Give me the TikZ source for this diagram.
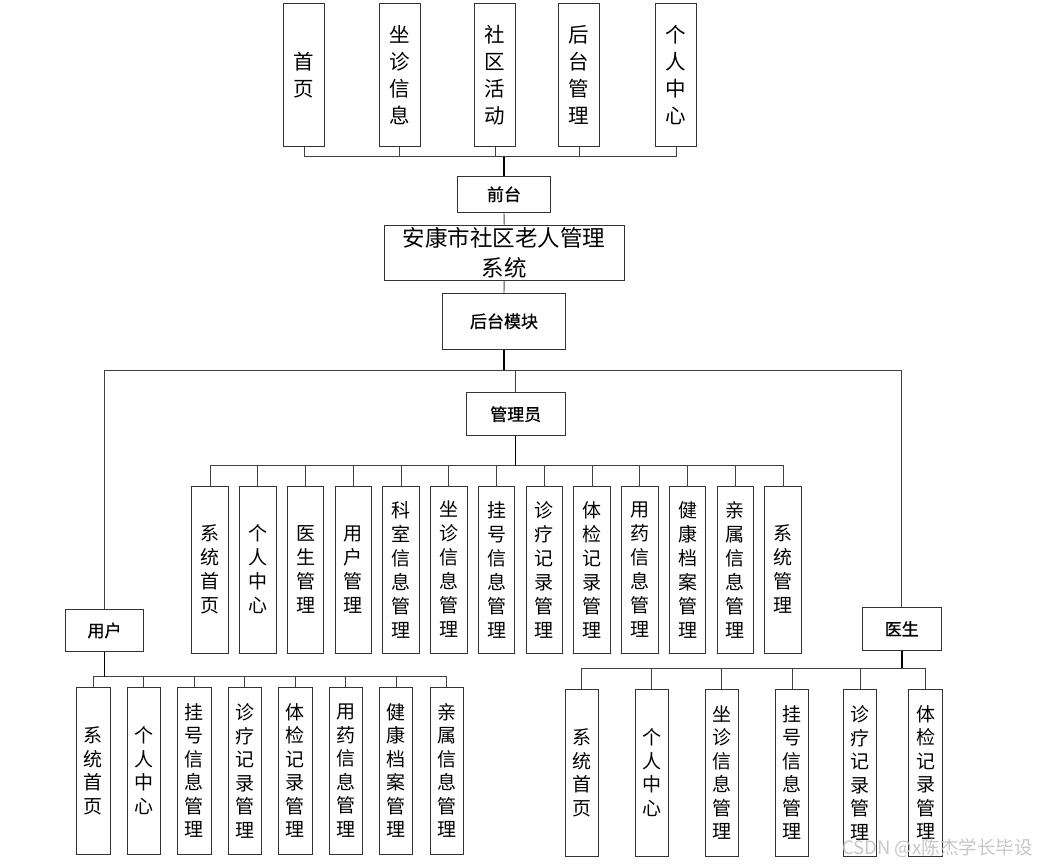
\documentclass[tikz,border=0pt]{standalone}
\usepackage{fontspec}
\setmainfont{Noto Sans CJK SC}
\newfontfamily\cjkbold{Noto Sans CJK SC}[FakeBold=0.8]
\begin{document}
\begin{tikzpicture}[x=1pt,y=-1pt,
  box/.style={draw=black!80, line width=0.9pt, fill=white, inner sep=0pt, align=center},
  tbox/.style={box, minimum width=41pt, minimum height=143.4pt, font=\fontsize{20.5}{27}\selectfont},
  abox/.style={box, minimum width=36.5pt, minimum height=167pt, font=\fontsize{19}{24}\selectfont},
  ubox/.style={box, minimum width=33.4pt, minimum height=166.7pt, font=\fontsize{19}{23.5}\selectfont},
  lbox/.style={box, font=\cjkbold\fontsize{17}{20}\selectfont},
  conn/.style={draw=black!75, line width=0.9pt},
  trunk/.style={draw=black, line width=1.5pt}]
\useasboundingbox (0,0) rectangle (1047,867);

% top row
\node[tbox] (t1) at (304,75) {首\\页};
\node[tbox] (t2) at (399.7,75) {坐\\诊\\信\\息};
\node[tbox] (t3) at (495,75) {社\\区\\活\\动};
\node[tbox] (t4) at (579.2,75) {后\\台\\管\\理};
\node[tbox] (t5) at (676.2,75) {个\\人\\中\\心};

\node[lbox, minimum width=93.4pt, minimum height=35.3pt] (qt) at (504,194.3) {前台};
\node[box, minimum width=239.7pt, minimum height=55pt, font=\fontsize{22.5}{30}\selectfont] (title) at (504.2,252.5) {安康市社区老人管理\\系统};
\node[lbox, minimum width=122.6pt, minimum height=56pt] (ht) at (504,321.3) {后台模块};
\node[lbox, minimum width=99.3pt, minimum height=43pt] (gly) at (515.7,414.2) {管理员};
\node[lbox, minimum width=77.6pt, minimum height=42.4pt] (yh) at (104.5,630.5) {用户};
\node[lbox, minimum width=78.3pt, minimum height=42.7pt] (ys) at (901.8,628.7) {医生};

% top connectors
\coordinate (tb) at (504,156.7);
\draw[conn] (t1.south) |- (t5.south |- tb) -- (t5.south);
\foreach \n in {t2,t3,t4} \draw[conn] (\n.south) -- (\n.south |- tb);
\draw[trunk] (qt.north) -- (qt.north |- tb);
\draw[conn] (qt.south) -- (title.north);
\draw[conn] (title.south) -- (ht.north);

% main split
\coordinate (mb) at (504,370);
\draw[trunk] (ht.south) -- (ht.south |- mb);
\draw[conn] (yh.north) |- (ys.north |- mb) -- (ys.north);
\draw[conn] (gly.north) -- (gly.north |- mb);

% admin children
\foreach \i/\t in {1/{系\\统\\首\\页},2/{个\\人\\中\\心},3/{医\\生\\管\\理},4/{用\\户\\管\\理},
  5/{科\\室\\信\\息\\管\\理},6/{坐\\诊\\信\\息\\管\\理},7/{挂\\号\\信\\息\\管\\理},
  8/{诊\\疗\\记\\录\\管\\理},9/{体\\检\\记\\录\\管\\理},10/{用\\药\\信\\息\\管\\理},
  11/{健\\康\\档\\案\\管\\理},12/{亲\\属\\信\\息\\管\\理},13/{系\\统\\管\\理}}
  \node[abox] (a\i) at ({210+47.75*(\i-1)},569.5) {\t};
\coordinate (ab) at (516,465.5);
\draw[conn] (a1.north) |- (a13.north |- ab) -- (a13.north);
\foreach \i in {2,...,12} \draw[conn] (a\i.north) -- (a\i.north |- ab);
\draw[trunk] (gly.south) -- (gly.south |- ab);

% user children
\foreach \i/\t in {1/{系\\统\\首\\页},2/{个\\人\\中\\心},3/{挂\\号\\信\\息\\管\\理},
  4/{诊\\疗\\记\\录\\管\\理},5/{体\\检\\记\\录\\管\\理},6/{用\\药\\信\\息\\管\\理},
  7/{健\\康\\档\\案\\管\\理},8/{亲\\属\\信\\息\\管\\理}}
  \node[ubox] (u\i) at ({93.3+50.49*(\i-1)},770.7) {\t};
\coordinate (ub) at (104.3,676.7);
\draw[conn] (u1.north) |- (u8.north |- ub) -- (u8.north);
\foreach \i in {2,...,7} \draw[conn] (u\i.north) -- (u\i.north |- ub);
\draw[trunk] (yh.south) -- (yh.south |- ub);

% doctor children
\foreach \i/\x/\t in {1/581.7/{系\\统\\首\\页},2/651.7/{个\\人\\中\\心},3/721.7/{坐\\诊\\信\\息\\管\\理},
  4/792.2/{挂\\号\\信\\息\\管\\理},5/860/{诊\\疗\\记\\录\\管\\理},6/925.6/{体\\检\\记\\录\\管\\理}}
  \node[ubox] (d\i) at (\x,772.7) {\t};
\coordinate (db) at (902,668.3);
\draw[conn] (d1.north) |- (d6.north |- db) -- (d6.north);
\foreach \i in {2,...,5} \draw[conn] (d\i.north) -- (d\i.north |- db);
\draw[trunk] (ys.south) -- (ys.south |- db);

% watermark
\node[anchor=west, inner sep=0pt, text=black!22, font=\fontsize{18.5}{20}\selectfont] (wm) at (842,848) {CSDN @x陈杰学长毕设};
\end{tikzpicture}
\end{document}
